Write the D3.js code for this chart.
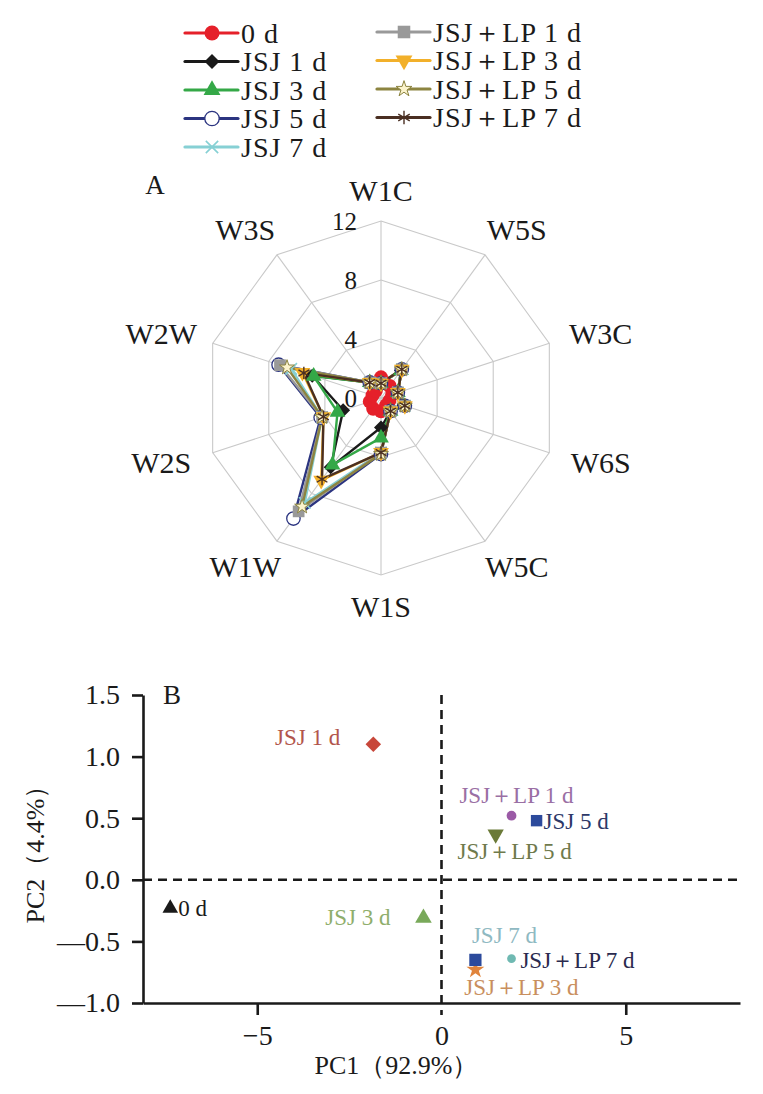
<!DOCTYPE html>
<html>
<head>
<meta charset="utf-8">
<script src="https://cdn.jsdelivr.net/npm/d3@7"></script>
<style>
  body { margin: 0; background: #fff; }
  svg text { font-family: "Liberation Serif", "Times New Roman", serif; fill: #1a1a1a; }
</style>
</head>
<body>
<div id="chart"></div>
<script>
// ---- data: radar (A) ----
var sensors = ["W1C", "W5S", "W3C", "W6S", "W5C", "W1S", "W1W", "W2S", "W2W", "W3S"];
var radarTicks = [0, 4, 8, 12];

var seriesNames = ["0 d", "JSJ 1 d", "JSJ 3 d", "JSJ 5 d", "JSJ 7 d",
                   "JSJ＋LP 1 d", "JSJ＋LP 3 d", "JSJ＋LP 5 d", "JSJ＋LP 7 d"];

var day0   = [1.4, 1.0, 0.8, 0.6, 0.6, 0.9, 0.9, 0.8, 0.6, 0.6];
var jsj1   = [1.0, 2.3, 1.2, 1.6, 1.1, 2.0, 5.8, 2.7, 4.9, 1.3];
var jsj3   = [1.0, 2.3, 1.2, 1.6, 1.1, 2.7, 5.6, 3.1, 4.8, 1.3];
var jsj5   = [1.0, 2.4, 1.2, 1.7, 1.1, 3.8, 10.1, 4.3, 7.3, 1.3];
var jsj7   = [1.0, 2.4, 1.2, 1.7, 1.1, 3.7, 8.8, 4.2, 6.4, 1.3];
var jsjLp1 = [1.0, 2.4, 1.2, 1.7, 1.1, 3.7, 9.5, 4.2, 7.2, 1.3];
var jsjLp3 = [1.0, 2.4, 1.2, 1.7, 1.1, 3.7, 6.9, 4.1, 5.6, 1.3];
var jsjLp5 = [1.0, 2.4, 1.2, 1.7, 1.1, 3.8, 9.1, 4.2, 6.7, 1.3];
var jsjLp7 = [1.0, 2.4, 1.2, 1.7, 1.1, 3.7, 6.8, 4.1, 5.5, 1.3];

// ---- data: PCA (B) ----
var pcaNames = ["0 d", "JSJ 1 d", "JSJ 3 d", "JSJ 5 d", "JSJ 7 d",
                "JSJ＋LP 1 d", "JSJ＋LP 3 d", "JSJ＋LP 5 d", "JSJ＋LP 7 d"];
var pc1 = [-7.36, -1.85, -0.49, 2.58, 1.90, 1.90, 0.92, 1.47, 0.92];
var pc2 = [-0.23, 1.10, -0.31, 0.48, -0.64, 0.52, -0.73, 0.37, -0.65];
var pc1Ticks = [-5, 0, 5];
var pc2Ticks = [-1.0, -0.5, 0.0, 0.5, 1.0, 1.5];

// ---- styles ----
var radarValues = [day0, jsj1, jsj3, jsj5, jsj7, jsjLp1, jsjLp3, jsjLp5, jsjLp7];
var radarColors = ["#e5202a", "#1a1a1a", "#34a847", "#2b3480", "#86d0d4",
                   "#999999", "#f2b02a", "#8c8440", "#4a2f22"];

var W = 763, H = 1094;

var svg = d3.select("#chart").append("svg")
    .attr("width", W)
    .attr("height", H);

svg.append("rect").attr("width", W).attr("height", H).attr("fill", "#fff");

// marker drawing for the radar series
function radarMarker(sel, i, size) {
    var c = radarColors[i];
    if (i == 0) {
        sel.append("circle").attr("r", size * 0.5).attr("fill", c);
    } else if (i == 1) {
        sel.append("path").attr("d", d3.symbol(d3.symbolSquare, size * size * 0.5)())
            .attr("transform", "rotate(45)").attr("fill", c);
    } else if (i == 2) {
        sel.append("path").attr("d", d3.symbol(d3.symbolTriangle, size * size * 0.55)()).attr("fill", c);
    } else if (i == 3) {
        sel.append("circle").attr("r", size * 0.48).attr("fill", "#fff")
            .attr("stroke", c).attr("stroke-width", 1.3);
    } else if (i == 4) {
        sel.append("path").attr("d", d3.symbol(d3.symbolTimes || d3.symbolCross, size * size * 0.45)())
            .attr("fill", "none").attr("stroke", c).attr("stroke-width", 1.6);
    } else if (i == 5) {
        sel.append("path").attr("d", d3.symbol(d3.symbolSquare, size * size * 0.7)()).attr("fill", c);
    } else if (i == 6) {
        sel.append("path").attr("d", d3.symbol(d3.symbolTriangle, size * size * 0.55)())
            .attr("transform", "rotate(180)").attr("fill", c);
    } else if (i == 7) {
        sel.append("path").attr("d", d3.symbol(d3.symbolStar, size * size * 0.35)())
            .attr("fill", "#fbf3cc").attr("stroke", c).attr("stroke-width", 1);
    } else {
        sel.append("path").attr("d", d3.symbol(d3.symbolAsterisk || d3.symbolCross, size * size * 0.55)())
            .attr("fill", "none").attr("stroke", c).attr("stroke-width", 1.4);
    }
}

// ================= A: radar =================
var cx = 381, cy = 398, R = 177;
var r = d3.scaleLinear().domain([0, 12]).range([0, R]);
var angle = d3.scaleLinear().domain([0, sensors.length]).range([0, 2 * Math.PI]);

function px(v, i) { return cx + r(v) * Math.sin(angle(i)); }
function py(v, i) { return cy - r(v) * Math.cos(angle(i)); }

var radar = svg.append("g").attr("class", "radar");

// grid rings
radarTicks.filter(function(t) { return t > 0; }).forEach(function(t) {
    radar.append("path")
        .attr("d", d3.line().curve(d3.curveLinearClosed)(sensors.map(function(s, i) { return [px(t, i), py(t, i)]; })))
        .attr("fill", "none")
        .attr("stroke", "#c9c9c9")
        .attr("stroke-width", 1.1);
});

// spokes
radar.selectAll(".spoke")
    .data(sensors)
    .enter().append("line")
    .attr("class", "spoke")
    .attr("x1", cx).attr("y1", cy)
    .attr("x2", function(d, i) { return px(12, i); })
    .attr("y2", function(d, i) { return py(12, i); })
    .attr("stroke", "#c9c9c9")
    .attr("stroke-width", 1.1);

// sensor labels
radar.selectAll(".axis-label")
    .data(sensors)
    .enter().append("text")
    .attr("class", "axis-label")
    .attr("x", function(d, i) { return cx + (R + 32) * Math.sin(angle(i)) + 22 * Math.sin(angle(i)); })
    .attr("y", function(d, i) { return cy - (R + 31) * Math.cos(angle(i)); })
    .attr("dy", "0.35em")
    .style("text-anchor", "middle")
    .style("font-size", "30px")
    .text(function(d) { return d; });

// tick labels
radar.selectAll(".r-tick")
    .data(radarTicks)
    .enter().append("text")
    .attr("class", "r-tick")
    .attr("x", cx - 24)
    .attr("y", function(d) { return cy - r(d); })
    .attr("dy", "0.35em")
    .style("text-anchor", "end")
    .style("font-size", "25px")
    .text(function(d) { return d; });

// series lines
var radarLine = d3.line()
    .curve(d3.curveLinearClosed)
    .x(function(d, i) { return px(d, i); })
    .y(function(d, i) { return py(d, i); });

radarValues.forEach(function(vals, k) {
    radar.append("path")
        .attr("d", radarLine(vals))
        .attr("fill", "none")
        .attr("stroke", radarColors[k])
        .attr("stroke-width", 2.4);
});

radarValues.forEach(function(vals, k) {
    vals.forEach(function(v, i) {
        var g = radar.append("g").attr("transform", "translate(" + px(v, i) + "," + py(v, i) + ")");
        radarMarker(g, k, 14);
    });
});

radar.append("text")
    .attr("x", 155).attr("y", 185)
    .attr("dy", "0.35em")
    .style("text-anchor", "middle")
    .style("font-size", "27px")
    .text("A");

// legend
var legend = svg.append("g").attr("class", "legend");
seriesNames.forEach(function(name, k) {
    var col = k < 5 ? 0 : 1;
    var row = col == 0 ? k : k - 5;
    var x0 = col == 0 ? 185 : 377;
    var y0 = (col == 0 ? 33 : 32) + row * 28.5;
    var item = legend.append("g").attr("transform", "translate(" + x0 + "," + y0 + ")");
    item.append("line")
        .attr("x1", 0).attr("x2", 53)
        .attr("stroke", radarColors[k])
        .attr("stroke-width", 3.2)
        .attr("stroke-linecap", "round");
    var m = item.append("g").attr("transform", "translate(27,0)");
    radarMarker(m, k, 15);
    item.append("text")
        .attr("x", 56)
        .attr("dy", "0.35em")
        .style("font-size", "28px")
        .style("letter-spacing", "1px")
        .text(name);
});

// ================= B: PCA =================
var plotLeft = 143, plotRight = 740, plotTop = 695, plotBottom = 1003;
var x = d3.scaleLinear().domain([-8.1, 8.1]).range([plotLeft, plotRight]);
var y = d3.scaleLinear().domain([-1, 1.5]).range([plotBottom, plotTop]);

var pca = svg.append("g").attr("class", "pca");

function minusFmt(d) {
    var s = Math.abs(d).toFixed(1);
    return d < 0 ? "\u2014" + s : s;
}

var yAxis = d3.axisLeft(y)
    .tickValues(pc2Ticks)
    .tickSize(11)
    .tickSizeOuter(0)
    .tickPadding(12)
    .tickFormat(minusFmt);

var xAxis = d3.axisBottom(x)
    .tickValues(pc1Ticks)
    .tickSize(12)
    .tickSizeOuter(0)
    .tickPadding(10)
    .tickFormat(function(d) { return d < 0 ? "\u2212" + Math.abs(d) : d; });

var gy = pca.append("g").attr("transform", "translate(" + plotLeft + ",0)").call(yAxis);
var gx = pca.append("g").attr("transform", "translate(0," + plotBottom + ")").call(xAxis);

[gx, gy].forEach(function(g) {
    g.select(".domain").attr("stroke", "#1a1a1a").attr("stroke-width", 2.6);
    g.selectAll(".tick line").attr("stroke", "#1a1a1a").attr("stroke-width", 2.6);
    g.selectAll(".tick text")
        .style("font-family", "'Liberation Serif', 'Times New Roman', serif")
        .style("font-size", "28px")
        .attr("fill", "#1a1a1a");
});
gx.selectAll(".tick").filter(function(d) { return d == 0; }).select("line").remove();

// zero reference lines
pca.append("line")
    .attr("x1", x(0)).attr("x2", x(0))
    .attr("y1", y(1.5)).attr("y2", plotBottom + 12)
    .attr("stroke", "#1a1a1a").attr("stroke-width", 2.6)
    .attr("stroke-dasharray", "9,6");
pca.append("line")
    .attr("x1", plotLeft).attr("x2", plotRight)
    .attr("y1", y(0)).attr("y2", y(0))
    .attr("stroke", "#1a1a1a").attr("stroke-width", 2.6)
    .attr("stroke-dasharray", "9,6");

// markers & labels
var pcaColors = ["#1a1a1a", "#c8473a", "#79a95a", "#2c4a9c", "#6fb9b2",
                 "#9b5aa6", "#e0843c", "#6b7a38", "#2c4a9c"];
var pcaLabelColors = ["#1a1a1a", "#b2564c", "#8fae6c", "#2c3868", "#8fb9c2",
                      "#9a6fa4", "#c98f5e", "#6f7a4c", "#2a2a4e"];
var pcaSymbols = [d3.symbolTriangle, d3.symbolSquare, d3.symbolTriangle, d3.symbolSquare, d3.symbolCircle,
                  d3.symbolCircle, d3.symbolStar, d3.symbolTriangle, d3.symbolSquare];
var pcaSizes = [105, 120, 120, 130, 60, 75, 100, 115, 150];
var pcaRotate = [0, 45, 0, 0, 0, 0, 0, 180, 0];
var labelAnchor = ["start", "end", "end", "start", "middle", "middle", "middle", "middle", "start"];
var labelDx = [8, -33, -33, 7, -7, 5, 46, 19, 45];
var labelDy = [8, 1, 7, 8, -16, -13, 25, 25, 8];

pcaNames.forEach(function(name, k) {
    pca.append("path")
        .attr("d", d3.symbol(pcaSymbols[k], pcaSizes[k])())
        .attr("transform", "translate(" + x(pc1[k]) + "," + y(pc2[k]) + ") rotate(" + pcaRotate[k] + ")")
        .attr("fill", pcaColors[k]);
});

pcaNames.forEach(function(name, k) {
    pca.append("text")
        .attr("x", x(pc1[k]) + labelDx[k])
        .attr("y", y(pc2[k]) + labelDy[k])
        .style("text-anchor", labelAnchor[k])
        .style("font-size", "23px")
        .style("fill", pcaLabelColors[k])
        .text(name);
});

pca.append("text")
    .attr("x", 163).attr("y", 695)
    .attr("dy", "0.35em")
    .style("font-size", "27px")
    .text("B");

pca.append("text")
    .attr("x", (plotLeft + plotRight) / 2 - 45).attr("y", 1065)
    .attr("dy", "0.35em")
    .style("text-anchor", "middle")
    .style("font-size", "26px")
    .text("PC1（92.9%）");

pca.append("text")
    .attr("transform", "translate(35,848) rotate(-90)")
    .attr("dy", "0.35em")
    .style("text-anchor", "middle")
    .style("font-size", "26px")
    .text("PC2（4.4%）");
</script>
</body>
</html>
